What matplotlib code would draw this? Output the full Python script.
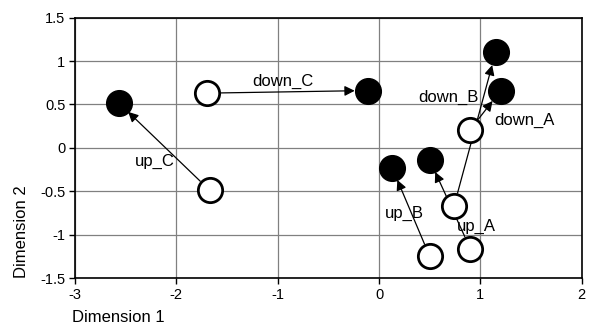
import matplotlib
matplotlib.use("Agg")
import matplotlib.pyplot as plt

plt.rcParams['font.family'] = ['Liberation Sans', 'DejaVu Sans']

# Open circles (start) and filled circles (end)
labels = ["up_C", "down_C", "down_B", "down_A", "up_B", "up_A"]
start_x = [-1.67, -1.70, 0.74, 0.90, 0.50, 0.90]
start_y = [-0.49, 0.63, -0.67, 0.21, -1.25, -1.16]
end_x = [-2.57, -0.11, 1.15, 1.20, 0.13, 0.50]
end_y = [0.52, 0.66, 1.10, 0.66, -0.23, -0.14]
label_x = [-2.21, -0.95, 0.68, 1.43, 0.25, 0.96]
label_y = [-0.16, 0.76, 0.58, 0.31, -0.76, -0.90]

x_ticks = [-3, -2, -1, 0, 1, 2]
y_ticks = [-1.5, -1, -0.5, 0, 0.5, 1, 1.5]
y_tick_labels = ["-1.5", "-1", "-0.5", "0", "0.5", "1", "1.5"]

fig = plt.figure(figsize=(5.93, 3.26), dpi=100)
ax = fig.add_axes([0.1265, 0.147, 0.8545, 0.799])

ax.set_xlim(-3, 2)
ax.set_ylim(-1.5, 1.5)
ax.set_xticks(x_ticks)
ax.set_xticklabels([str(v) for v in x_ticks])
ax.set_yticks(y_ticks)
ax.set_yticklabels(y_tick_labels)
ax.grid(True, color='#808080', linewidth=0.9)
ax.set_axisbelow(True)
for s in ax.spines.values():
    s.set_linewidth(1.2)
ax.tick_params(direction='out', length=4, width=1, labelsize=10.5, pad=3)

for sx, sy, ex, ey in zip(start_x, start_y, end_x, end_y):
    ax.annotate("", xy=(ex, ey), xytext=(sx, sy),
                arrowprops=dict(arrowstyle='-|>', color='black', lw=0.9,
                                mutation_scale=15, shrinkA=9.5, shrinkB=9.5),
                zorder=2)

ax.plot(start_x, start_y, 'o', markersize=17.5, markerfacecolor='white',
        markeredgecolor='black', markeredgewidth=2.0, linestyle='none', zorder=3)
ax.plot(end_x, end_y, 'o', markersize=18.5, markerfacecolor='black',
        markeredgecolor='black', linestyle='none', zorder=3)

for lab, lx, ly in zip(labels, label_x, label_y):
    ax.text(lx, ly, lab, fontsize=12, ha='center', va='center', zorder=4)

ax.set_xlabel("Dimension 1", fontsize=12)
ax.xaxis.set_label_coords(-0.006, -0.15)
ax.xaxis.label.set_ha('left')
ax.xaxis.label.set_va('center')
ax.set_ylabel("Dimension 2", fontsize=12)
ax.yaxis.set_label_coords(-0.1056, 0.0)
ax.yaxis.label.set_va('center')
ax.yaxis.label.set_rotation_mode('anchor')
ax.yaxis.label.set_ha('left')

fig.savefig("out.png", dpi=100)
